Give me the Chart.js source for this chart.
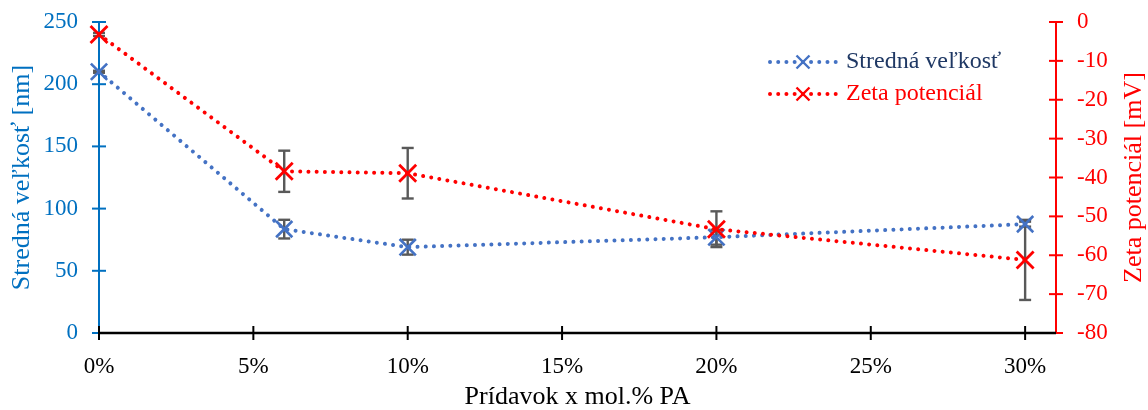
<!DOCTYPE html>
<html lang="sk">
<head>
<meta charset="utf-8">
<title>Stredná veľkosť a zeta potenciál</title>
<script src="https://cdn.jsdelivr.net/npm/chart.js@4.4.1/dist/chart.umd.min.js"></script>
<style>
  html, body { margin: 0; padding: 0; background: #ffffff; }
  #wrap { position: relative; width: 1148px; height: 410px; }
</style>
</head>
<body>
<div id="wrap"><canvas id="chart"></canvas></div>
<script>
// Prídavok PA [mol.%]
const additions = [0, 6, 10, 20, 30];
// Stredná veľkosť [nm] a jej odchýlka
const meanSize = [210, 83.5, 69, 77, 87.5];
const meanSizeErr = [0.8, 7.5, 6, 6, 2];
// Zeta potenciál [mV] a jeho odchýlka
const zeta = [-3.2, -38.4, -38.9, -53.3, -61.2];
const zetaErr = [0.4, 5.3, 6.5, 4.6, 10.3];

// Hodnoty značiek na osiach
const xTickValues = [0, 5, 10, 15, 20, 25, 30];
const sizeTickValues = [0, 50, 100, 150, 200, 250];
const zetaTickValues = [0, -10, -20, -30, -40, -50, -60, -70, -80];

// Texty
const seriesNames = ['Stredná veľkosť', 'Zeta potenciál'];
const xTitle = 'Prídavok x mol.% PA';
const sizeTitle = 'Stredná veľkosť [nm]';
const zetaTitle = 'Zeta potenciál [mV]';

// Vzhľad
const SERIF = '"Liberation Serif", "Times New Roman", serif';
const SIZE_COLOR = '#4472C4';
const SIZE_AXIS_COLOR = '#0070C0';
const SIZE_LEGEND_COLOR = '#1F3864';
const ZETA_COLOR = '#FF0000';
const ERR_COLOR = '#595959';
const DOTS = [0.01, 8.2];

const toPoints = (xs, ys) => xs.map((x, i) => ({ x: x, y: ys[i] }));
const setTicks = values => scale => { scale.ticks = values.map(v => ({ value: v })); };
// pevné rozmery osí, bez dodatočného odsadenia od popiskov
const fixBox = (w, h) => scale => {
  if (w !== null) scale.width = w;
  if (h !== null) scale.height = h;
  scale.paddingTop = 0; scale.paddingBottom = 0;
  scale.paddingLeft = 0; scale.paddingRight = 0;
};

// Osi s krížovými značkami
const crossAxes = {
  id: 'crossAxes',
  beforeDatasetsDraw(chart) {
    const { ctx, chartArea: a, scales } = chart;
    const seg = (x1, y1, x2, y2) => { ctx.beginPath(); ctx.moveTo(x1, y1); ctx.lineTo(x2, y2); ctx.stroke(); };
    ctx.save();
    ctx.lineCap = 'butt';
    // ľavá os
    ctx.strokeStyle = SIZE_AXIS_COLOR; ctx.lineWidth = 2;
    seg(a.left, a.top, a.left, a.bottom);
    scales.y.ticks.forEach(t => { const p = scales.y.getPixelForValue(t.value); seg(a.left - 7, p, a.left + 7, p); });
    // pravá os
    ctx.strokeStyle = ZETA_COLOR;
    seg(a.right, a.top, a.right, a.bottom);
    scales.y2.ticks.forEach(t => { const p = scales.y2.getPixelForValue(t.value); seg(a.right - 7, p, a.right + 7, p); });
    // vodorovná os
    ctx.strokeStyle = '#000000'; ctx.lineWidth = 2.5;
    seg(a.left, a.bottom, a.right, a.bottom);
    ctx.lineWidth = 2;
    scales.x.ticks.forEach(t => { const p = scales.x.getPixelForValue(t.value); seg(p, a.bottom - 7, p, a.bottom + 7); });
    ctx.restore();
  }
};

// Chybové úsečky
const errorBars = {
  id: 'errorBars',
  beforeDatasetsDraw(chart) {
    const { ctx, scales } = chart;
    const seg = (x1, y1, x2, y2) => { ctx.beginPath(); ctx.moveTo(x1, y1); ctx.lineTo(x2, y2); ctx.stroke(); };
    ctx.save();
    ctx.strokeStyle = ERR_COLOR; ctx.lineWidth = 2.4; ctx.lineCap = 'butt';
    chart.data.datasets.forEach(ds => {
      if (!ds.errors) return;
      const ys = scales[ds.yAxisID];
      ds.data.forEach((p, j) => {
        const px = scales.x.getPixelForValue(p.x);
        const top = ys.getPixelForValue(p.y + ds.errors[j]);
        const bot = ys.getPixelForValue(p.y - ds.errors[j]);
        seg(px, top, px, bot);
        seg(px - 6, top, px + 6, top);
        seg(px - 6, bot, px + 6, bot);
      });
    });
    ctx.restore();
  }
};

// Názvy osí
const axisTitles = {
  id: 'axisTitles',
  afterDraw(chart) {
    const { ctx, chartArea: a } = chart;
    const midY = (a.top + a.bottom) / 2;
    ctx.save();
    ctx.font = '26px ' + SERIF;
    ctx.textAlign = 'center';
    ctx.textBaseline = 'middle';
    ctx.fillStyle = '#000000';
    ctx.fillText(xTitle, (a.left + a.right) / 2, 397);
    ctx.save();
    ctx.translate(22, midY); ctx.rotate(-Math.PI / 2);
    ctx.fillStyle = SIZE_AXIS_COLOR; ctx.fillText(sizeTitle, 0, 0);
    ctx.restore();
    ctx.save();
    ctx.translate(1134, midY); ctx.rotate(-Math.PI / 2);
    ctx.fillStyle = ZETA_COLOR; ctx.fillText(zetaTitle, 0, 0);
    ctx.restore();
    ctx.restore();
  }
};

// Legenda v ploche grafu
const legendBox = {
  id: 'legendBox',
  afterDatasetsDraw(chart) {
    const { ctx } = chart;
    const rows = [62, 94];
    ctx.save();
    chart.data.datasets.forEach((ds, i) => {
      const y = rows[i];
      ctx.strokeStyle = ds.borderColor;
      ctx.lineWidth = ds.borderWidth;
      ctx.lineCap = 'round';
      ctx.setLineDash(ds.borderDash);
      ctx.beginPath(); ctx.moveTo(770, y); ctx.lineTo(837, y); ctx.stroke();
      ctx.setLineDash([]);
      ctx.lineCap = 'butt';
      ctx.lineWidth = 2.4;
      const r = 6.5;
      ctx.beginPath();
      ctx.moveTo(803 - r, y - r); ctx.lineTo(803 + r, y + r);
      ctx.moveTo(803 + r, y - r); ctx.lineTo(803 - r, y + r);
      ctx.stroke();
      ctx.font = '24px ' + SERIF;
      ctx.textAlign = 'left';
      ctx.textBaseline = 'middle';
      ctx.fillStyle = ds.legendColor;
      ctx.fillText(ds.label, 846, y);
    });
    ctx.restore();
  }
};

const tickFont = { family: SERIF, size: 23 };

new Chart(document.getElementById('chart'), {
  type: 'line',
  data: {
    datasets: [
      {
        label: seriesNames[0],
        data: toPoints(additions, meanSize),
        errors: meanSizeErr,
        yAxisID: 'y',
        order: 1,
        borderColor: SIZE_COLOR,
        borderWidth: 4,
        borderDash: DOTS,
        borderCapStyle: 'round',
        pointStyle: 'crossRot',
        pointRadius: 11.5,
        pointHoverRadius: 11.5,
        pointBorderWidth: 2.6,
        pointBorderColor: SIZE_COLOR,
        legendColor: SIZE_LEGEND_COLOR,
        fill: false,
        tension: 0,
        clip: false
      },
      {
        label: seriesNames[1],
        data: toPoints(additions, zeta),
        errors: zetaErr,
        yAxisID: 'y2',
        order: 0,
        borderColor: ZETA_COLOR,
        borderWidth: 4,
        borderDash: DOTS,
        borderCapStyle: 'round',
        pointStyle: 'crossRot',
        pointRadius: 12,
        pointHoverRadius: 12,
        pointBorderWidth: 2.8,
        pointBorderColor: ZETA_COLOR,
        legendColor: ZETA_COLOR,
        fill: false,
        tension: 0,
        clip: false
      }
    ]
  },
  options: {
    responsive: true,
    maintainAspectRatio: false,
    animation: false,
    layout: { padding: { top: 22, left: 0, right: 0, bottom: 0 } },
    plugins: { legend: { display: false }, tooltip: { enabled: false } },
    events: [],
    scales: {
      x: {
        type: 'linear',
        position: 'bottom',
        min: 0,
        max: 31,
        afterBuildTicks: setTicks(xTickValues),
        afterFit: fixBox(null, 77),
        grid: { display: false, drawTicks: false },
        border: { display: false },
        ticks: {
          padding: 20,
          color: '#000000',
          font: tickFont,
          maxRotation: 0,
          autoSkip: false,
          callback: v => v + '%'
        }
      },
      y: {
        type: 'linear',
        position: 'left',
        min: 0,
        max: 250,
        afterBuildTicks: setTicks(sizeTickValues),
        afterFit: fixBox(99, null),
        grid: { display: false, drawTicks: false },
        border: { display: false },
        ticks: { padding: 21, color: SIZE_AXIS_COLOR, font: tickFont }
      },
      y2: {
        type: 'linear',
        position: 'right',
        min: -80,
        max: 0,
        afterBuildTicks: setTicks(zetaTickValues),
        afterFit: fixBox(92, null),
        grid: { display: false, drawTicks: false },
        border: { display: false },
        ticks: { padding: 21, color: ZETA_COLOR, font: tickFont }
      }
    }
  },
  plugins: [crossAxes, errorBars, legendBox, axisTitles]
});
</script>
</body>
</html>
